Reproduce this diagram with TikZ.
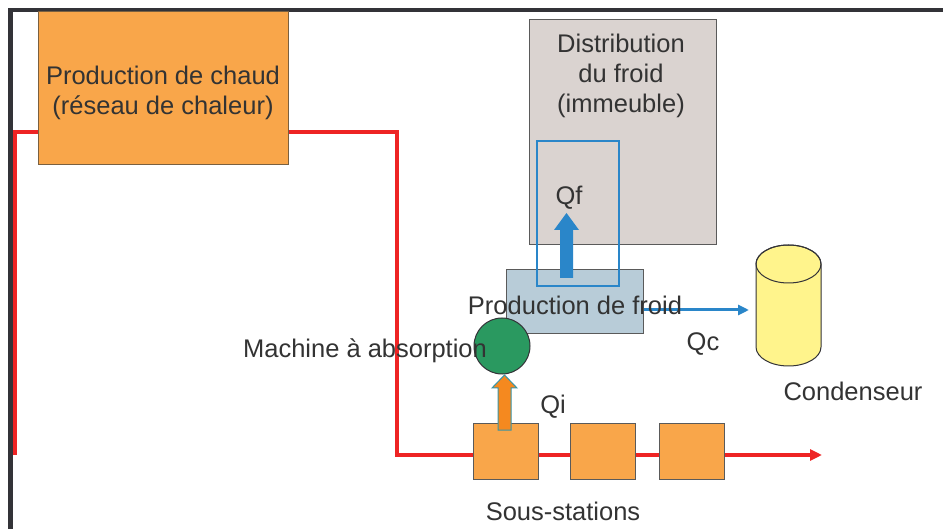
\documentclass[tikz,border=0pt]{standalone}
\usepackage{fontspec}
\setmainfont{Liberation Sans}
\usetikzlibrary{arrows.meta}
\definecolor{framec}{HTML}{333338}
\definecolor{txtc}{HTML}{333333}
\definecolor{orangec}{HTML}{F9A64A}
\definecolor{orangebd}{HTML}{7A6040}
\definecolor{grayc}{HTML}{5A5A5A}
\definecolor{distc}{HTML}{DAD3D0}
\definecolor{prodc}{HTML}{B8CCD8}
\definecolor{bluec}{HTML}{2A86C9}
\definecolor{greenc}{HTML}{2A9960}
\definecolor{arrowor}{HTML}{F5891F}
\definecolor{tealc}{HTML}{3A95A5}
\definecolor{redc}{HTML}{EE2424}
\definecolor{yelc}{HTML}{FFF48C}
\tikzset{
  lbl/.style={font=\fontsize{25.5}{30}\selectfont, text=txtc, inner sep=0pt, align=center},
  obox/.style={fill=orangec, draw=grayc, line width=1pt, inner sep=0pt},
  redline/.style={draw=redc, line width=3.5pt, line join=miter},
  blueline/.style={draw=bluec, line width=3pt},
}
\begin{document}
\begin{tikzpicture}[x=1pt,y=-1pt]
\useasboundingbox[fill=white] (0,0) rectangle (943,529);
% frame
\coordinate (fb) at (10.5,529);
\coordinate (fc) at (10.5,10);
\coordinate (fr) at (943,10);
\draw[framec, line width=4.5pt] (fb) -- (fc) -- (fr);
% red heat network
\coordinate (rl) at (15,455);
\coordinate (rt) at (15,132);
\coordinate (rc) at (397,132);
\coordinate (rb) at (397,455);
\coordinate (rend) at (822,455);
\draw[redline, -{Triangle[length=12pt,width=11pt]}] (rl) -- (rt) -- (rc) -- (rb) -- (rend);
% boxes
\node[obox, draw=orangebd, minimum width=250pt, minimum height=153pt] (chaud) at (163,88.5) {};
\node[fill=distc, draw=grayc, line width=1pt, minimum width=187pt, minimum height=225pt, inner sep=0pt] (dist) at (622.5,132.5) {};
\node[fill=prodc, draw=grayc, line width=1pt, minimum width=137pt, minimum height=64pt, inner sep=0pt] (prod) at (574.5,302) {};
\node[obox, minimum width=65pt, minimum height=56pt] (ss1) at (505.5,451) {};
\node[obox, minimum width=65pt, minimum height=56pt] (ss2) at (602.5,451) {};
\node[obox, minimum width=65pt, minimum height=56pt] (ss3) at (691.5,451) {};
% blue outline rectangle
\node[draw=bluec, line width=2.5pt, minimum width=82pt, minimum height=145pt, inner sep=0pt] (brect) at (578,213.5) {};
% Qf arrow
\fill[bluec] (560,278) -- (560,230) -- (554,230) -- (566.5,213) -- (579,230) -- (573,230) -- (573,278) -- cycle;
% absorption machine
\node[circle, fill=greenc, draw=framec, line width=1pt, minimum size=56pt, inner sep=0pt] (mach) at (502,346) {};
% Qi arrow
\filldraw[fill=arrowor, draw=tealc, line width=1pt] (498,430) -- (498,388) -- (492,388) -- (504.5,375) -- (517,388) -- (511,388) -- (511,430) -- cycle;
% Qc line
\coordinate (qcend) at (749,310);
\draw[blueline, -{Triangle[length=11pt,width=10pt]}] (prod.east |- qcend) -- (qcend);
% condenser cylinder
\filldraw[fill=yelc, draw=framec, line width=1pt] (756,264) -- (756,347) arc[start angle=180, end angle=360, x radius=32.5pt, y radius=19pt] -- (821,264) arc[start angle=0, end angle=180, x radius=32.5pt, y radius=19pt] -- cycle;
\draw[framec, line width=1pt] (788.5,264) ellipse[x radius=32.5pt, y radius=19pt];
% labels
\node[lbl] (tchaud) at (163,93) {Production de chaud\\(réseau de chaleur)};
\node[lbl] (tdist) at (621,76) {Distribution\\du froid\\(immeuble)};
\node[lbl] (tqf) at (569,198) {Qf};
\node[lbl] (tprod) at (575,305) {Production de froid};
\node[lbl] (tmach) at (365,351) {Machine à absorption};
\node[lbl] (tqc) at (703,344) {Qc};
\node[lbl] (tcond) at (853,391) {Condenseur};
\node[lbl] (tqi) at (553,407) {Qi};
\node[lbl] (tss) at (563,511) {Sous-stations};
\end{tikzpicture}
\end{document}
